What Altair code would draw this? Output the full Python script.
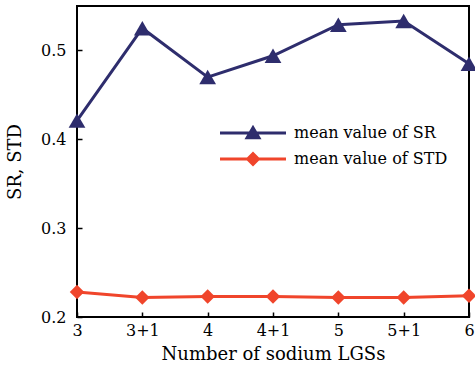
import altair as alt
import pandas as pd

categories = ["3", "3+1", "4", "4+1", "5", "5+1", "6"]
sr_values = [0.421, 0.525, 0.470, 0.494, 0.529, 0.533, 0.485]
std_values = [0.228, 0.222, 0.223, 0.223, 0.222, 0.222, 0.224]
series_names = ["mean value of SR", "mean value of STD"]
series_colors = ["#2e2d6d", "#f0452b"]
y_ticks = [0.2, 0.3, 0.4, 0.5]

rows = []
for c, v in zip(categories, sr_values):
    rows.append({"n": c, "value": v, "series": series_names[0]})
for c, v in zip(categories, std_values):
    rows.append({"n": c, "value": v, "series": series_names[1]})
df = pd.DataFrame(rows)

W, H = 392, 311
FONT = "DejaVu Serif"

tri_path = "M-3.3,-0.15H3.3V0.15H-3.3Z M0,-0.82L0.85,0.62L-0.85,0.62Z"
dia_path = "M-3.3,-0.15H3.3V0.15H-3.3Z M0,-0.75L0.75,0L0,0.75L-0.75,0Z"

xscale = alt.Scale(type="point", padding=0, domain=categories)
yscale = alt.Scale(domain=[0.2, 0.55], nice=False, zero=False)

main_x_axis = alt.Axis(
    title="Number of sodium LGSs", labelAngle=0, ticks=False, domain=False,
    grid=False, labelPadding=5, titlePadding=7, labelFont=FONT, titleFont=FONT,
    labelFontSize=16, titleFontSize=18, labelColor="black", titleColor="black",
    titleFontWeight="normal",
)
main_y_axis = alt.Axis(
    title="SR, STD", values=y_ticks, format=".1f", ticks=False, domain=False,
    grid=False, labelPadding=11, titlePadding=16, labelFont=FONT, titleFont=FONT,
    labelFontSize=16, titleFontSize=18, labelColor="black", titleColor="black",
    titleFontWeight="normal",
)
tick_x_axis = alt.Axis(
    orient="top", offset=-H, labels=False, domain=False, grid=False, title=None,
    tickSize=5, tickWidth=1.5, tickColor="black",
)
tick_y_axis = alt.Axis(
    orient="right", offset=-W, values=y_ticks, labels=False, domain=False,
    grid=False, title=None, tickSize=5, tickWidth=1.5, tickColor="black",
)

base = alt.Chart(df)


def series_layers(name, color, shape, size, first=False):
    sub = base.transform_filter(alt.datum.series == name)
    xa = main_x_axis if first else None
    ya = main_y_axis if first else None
    line = sub.mark_line(color=color, strokeWidth=3).encode(
        x=alt.X("n:O", scale=xscale, sort=categories, axis=xa),
        y=alt.Y("value:Q", scale=yscale, axis=ya),
    )
    pts = sub.mark_point(filled=True, color=color, shape=shape, size=size, opacity=1).encode(
        x=alt.X("n:O", scale=xscale, sort=categories, axis=None),
        y=alt.Y("value:Q", scale=yscale, axis=None),
    )
    return [line, pts]


legend_def = alt.Legend(
    title=None, orient="none", legendX=166, legendY=117, padding=0,
    labelFont=FONT, labelFontSize=16, labelColor="black", symbolSize=400,
    symbolOpacity=1, symbolStrokeWidth=0, labelOffset=31, rowPadding=8,
)
legend_layer = base.mark_point(filled=True, opacity=0).encode(
    x=alt.X("n:O", scale=xscale, sort=categories, axis=tick_x_axis),
    y=alt.Y("value:Q", scale=yscale, axis=tick_y_axis),
    color=alt.Color("series:N", scale=alt.Scale(domain=series_names, range=series_colors),
                    legend=legend_def),
    shape=alt.Shape("series:N", scale=alt.Scale(domain=series_names, range=[tri_path, dia_path]),
                    legend=legend_def),
)

layers = (
    series_layers(series_names[1], series_colors[1], "diamond", 210, first=True)
    + series_layers(series_names[0], series_colors[0], "triangle-up", 280)
    + [legend_layer]
)

chart = alt.layer(*layers).resolve_axis(x="independent", y="independent").properties(
    width=W, height=H,
    autosize=alt.AutoSizeParams(type="none"),
    padding={"left": 77, "top": 6, "right": 6, "bottom": 54},
    background="white",
).configure_view(stroke="black", strokeWidth=2)

chart.save("out.html", embed_options={"renderer": "svg", "actions": False})
